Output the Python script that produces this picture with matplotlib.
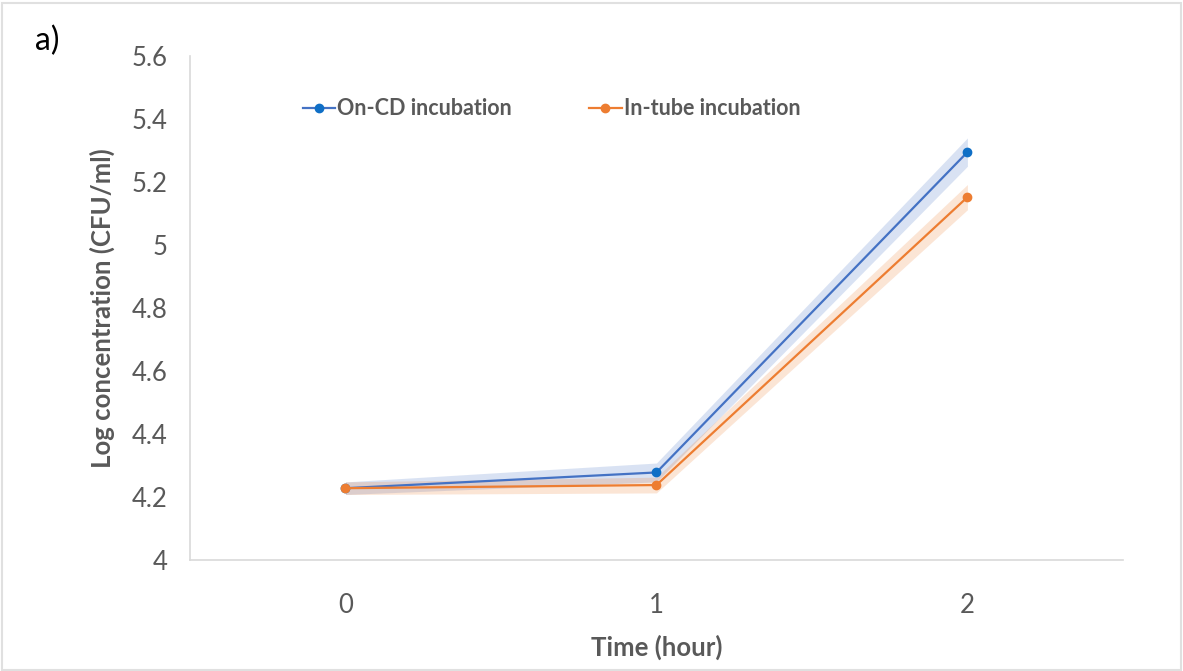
"""Bacterial growth: on-CD vs in-tube incubation (log CFU/ml)."""

import numpy as np
import matplotlib
matplotlib.use("Agg")
import matplotlib.pyplot as plt
from matplotlib.patches import Rectangle

time_h = [0, 1, 2]
on_cd = [4.228, 4.278, 5.295]
on_cd_err = [0.02, 0.03, 0.045]
in_tube = [4.228, 4.238, 5.152]
in_tube_err = [0.02, 0.025, 0.04]

BLUE = "#4472C4"
BLUE_DOT = "#0F6FC6"
ORANGE = "#ED7D31"
GREY = "#595959"

plt.rcParams["font.family"] = ["Lato", "DejaVu Sans"]

fig = plt.figure(figsize=(11.83, 6.71), dpi=100)
ax = fig.add_axes([0.1606, 0.1654, 0.7886, 0.7511])

t = np.array(time_h)
for y, err, line_c, dot_c, label in [
    (on_cd, on_cd_err, BLUE, BLUE_DOT, "On-CD incubation"),
    (in_tube, in_tube_err, ORANGE, ORANGE, "In-tube incubation"),
]:
    y = np.array(y)
    err = np.array(err)
    ax.fill_between(t, y - err, y + err, color=line_c, alpha=0.2, linewidth=0)
    ax.plot(t, y, color=line_c, linewidth=1.6, marker="o", markersize=6,
            markerfacecolor=dot_c, markeredgecolor=dot_c, label=label)

ax.set_xlim(-0.5, 2.5)
ax.set_ylim(4, 5.6)
ax.set_xticks(time_h)
ax.set_yticks(np.arange(4, 5.61, 0.2))
ax.set_yticklabels(["4", "4.2", "4.4", "4.6", "4.8", "5", "5.2", "5.4", "5.6"])
ax.tick_params(length=0, labelsize=18.5, labelcolor=GREY, pad=16)
ax.tick_params(axis="x", pad=24)

for side in ["top", "right"]:
    ax.spines[side].set_visible(False)
for side in ["left", "bottom"]:
    ax.spines[side].set_color("#D9D9D9")
    ax.spines[side].set_linewidth(1.2)

ax.set_xlabel("Time (hour)", fontsize=18.5, fontweight="bold", color=GREY,
              labelpad=12)
ax.set_ylabel("Log concentration (CFU/ml)", fontsize=18.5, fontweight="bold",
              color=GREY, labelpad=12)

leg = ax.legend(loc="upper left", bbox_to_anchor=(0.1, 0.955), ncol=2,
                frameon=False, fontsize=15.5, handlelength=1.5,
                handletextpad=0.1, columnspacing=3.6)
for txt in leg.get_texts():
    txt.set_color(GREY)
    txt.set_fontweight("bold")

fig.text(0.03, 0.925, "a)", fontsize=23, color="black")
fig.patches.append(Rectangle((0.002, 0.002), 0.996, 0.994, transform=fig.transFigure,
                             fill=False, edgecolor="#E0E0E0", linewidth=1.5))

fig.savefig("out.png", dpi=100)
